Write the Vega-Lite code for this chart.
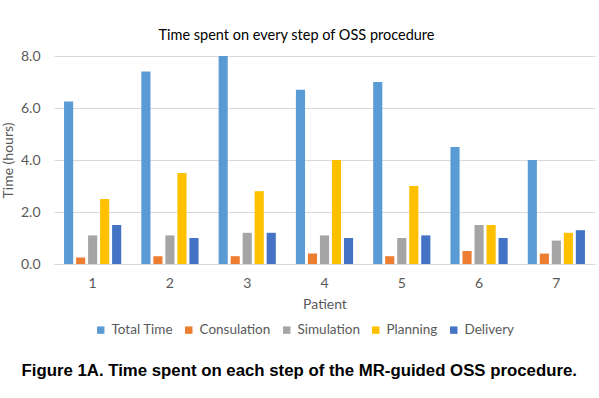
{
  "$schema": "https://vega.github.io/schema/vega-lite/v6.json",
  "background": "white",
  "autosize": {"type": "pad"},
  "padding": {"left": 1, "top": 27, "right": 4, "bottom": 8},
  "title": {
    "text": "Figure 1A. Time spent on each step of the MR-guided OSS procedure.",
    "orient": "bottom",
    "anchor": "middle",
    "font": "Liberation Sans",
    "fontSize": 16.8,
    "fontWeight": "bold",
    "color": "#000000",
    "offset": 26,
    "dx": 1
  },
  "config": {
    "view": {"stroke": null},
    "font": "Lato",
    "axis": {
      "labelFont": "Lato",
      "titleFont": "Lato",
      "labelColor": "#595959",
      "titleColor": "#595959",
      "labelFontSize": 14,
      "titleFontSize": 14,
      "titleFontWeight": "normal",
      "ticks": false
    },
    "legend": {
      "labelFont": "Lato",
      "labelFontSize": 13.5,
      "labelColor": "#595959"
    }
  },
  "vconcat": [
    {
      "width": 541,
      "height": 208,
      "title": {
        "text": "Time spent on every step of OSS procedure",
        "font": "Lato",
        "fontSize": 14.5,
        "fontWeight": "normal",
        "color": "#000000",
        "anchor": "middle",
        "dx": -28,
        "offset": 6
      },
      "data": {
        "values": [
          {"patient": "1", "step": "Total Time", "hours": 6.25},
          {"patient": "1", "step": "Consulation", "hours": 0.25},
          {"patient": "1", "step": "Simulation", "hours": 1.1},
          {"patient": "1", "step": "Planning", "hours": 2.5},
          {"patient": "1", "step": "Delivery", "hours": 1.5},
          {"patient": "2", "step": "Total Time", "hours": 7.4},
          {"patient": "2", "step": "Consulation", "hours": 0.3},
          {"patient": "2", "step": "Simulation", "hours": 1.1},
          {"patient": "2", "step": "Planning", "hours": 3.5},
          {"patient": "2", "step": "Delivery", "hours": 1.0},
          {"patient": "3", "step": "Total Time", "hours": 8.0},
          {"patient": "3", "step": "Consulation", "hours": 0.3},
          {"patient": "3", "step": "Simulation", "hours": 1.2},
          {"patient": "3", "step": "Planning", "hours": 2.8},
          {"patient": "3", "step": "Delivery", "hours": 1.2},
          {"patient": "4", "step": "Total Time", "hours": 6.7},
          {"patient": "4", "step": "Consulation", "hours": 0.4},
          {"patient": "4", "step": "Simulation", "hours": 1.1},
          {"patient": "4", "step": "Planning", "hours": 4.0},
          {"patient": "4", "step": "Delivery", "hours": 1.0},
          {"patient": "5", "step": "Total Time", "hours": 7.0},
          {"patient": "5", "step": "Consulation", "hours": 0.3},
          {"patient": "5", "step": "Simulation", "hours": 1.0},
          {"patient": "5", "step": "Planning", "hours": 3.0},
          {"patient": "5", "step": "Delivery", "hours": 1.1},
          {"patient": "6", "step": "Total Time", "hours": 4.5},
          {"patient": "6", "step": "Consulation", "hours": 0.5},
          {"patient": "6", "step": "Simulation", "hours": 1.5},
          {"patient": "6", "step": "Planning", "hours": 1.5},
          {"patient": "6", "step": "Delivery", "hours": 1.0},
          {"patient": "7", "step": "Total Time", "hours": 4.0},
          {"patient": "7", "step": "Consulation", "hours": 0.4},
          {"patient": "7", "step": "Simulation", "hours": 0.9},
          {"patient": "7", "step": "Planning", "hours": 1.2},
          {"patient": "7", "step": "Delivery", "hours": 1.3}
        ]
      },
      "mark": {"type": "bar"},
      "encoding": {
        "x": {
          "field": "patient",
          "type": "ordinal",
          "title": "Patient",
          "scale": {"paddingInner": 0.26, "paddingOuter": 0.13},
          "axis": {
            "labelAngle": 0,
            "labelPadding": 12,
            "titlePadding": 7,
            "domainColor": "#d9d9d9",
            "grid": false
          }
        },
        "xOffset": {
          "field": "step",
          "type": "nominal",
          "sort": ["Total Time", "Consulation", "Simulation", "Planning", "Delivery"],
          "scale": {"paddingInner": 0.24, "paddingOuter": 0}
        },
        "y": {
          "field": "hours",
          "type": "quantitative",
          "title": "Time (hours)",
          "scale": {"domain": [0, 8], "nice": false},
          "axis": {
            "values": [0, 2, 4, 6, 8],
            "format": ".1f",
            "domain": false,
            "gridColor": "#d9d9d9",
            "labelPadding": 14,
            "titlePadding": 5
          }
        },
        "color": {
          "field": "step",
          "type": "nominal",
          "sort": ["Total Time", "Consulation", "Simulation", "Planning", "Delivery"],
          "scale": {
            "domain": ["Total Time", "Consulation", "Simulation", "Planning", "Delivery"],
            "range": ["#5B9BD5", "#ED7D31", "#A5A5A5", "#FFC000", "#4472C4"]
          },
          "legend": {
            "title": null,
            "orient": "none",
            "direction": "horizontal",
            "legendX": 40,
            "legendY": 267,
            "symbolType": "square",
            "symbolSize": 55,
            "symbolStrokeWidth": 0,
            "columnPadding": 9,
            "labelOffset": 4
          }
        }
      }
    }
  ]
}
